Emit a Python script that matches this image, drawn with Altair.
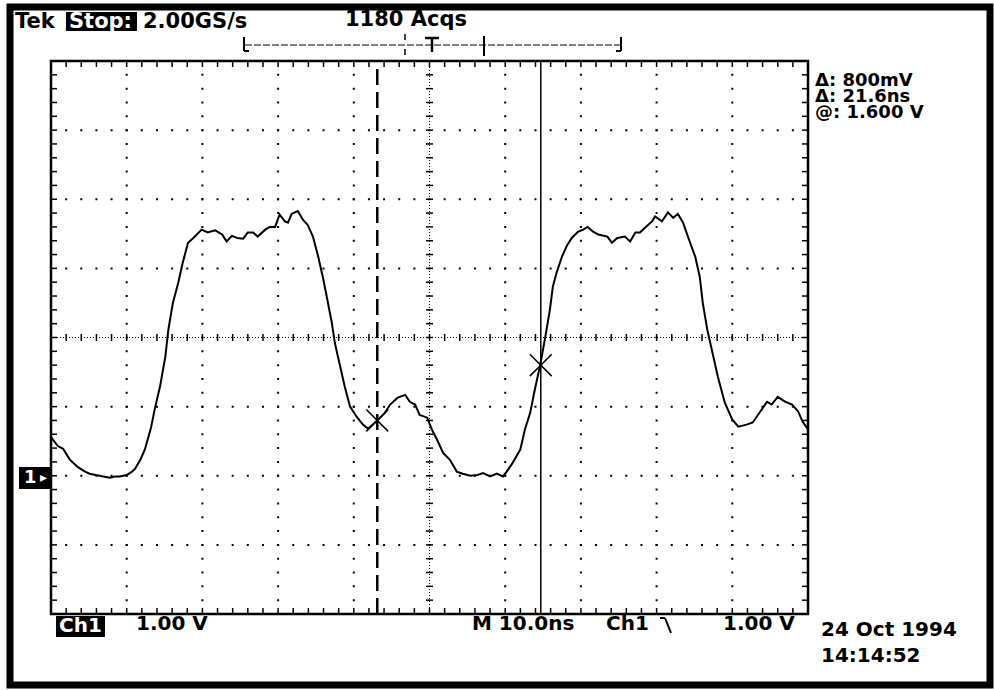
import altair as alt
import numpy as np
import pandas as pd

# ---- waveform (time in ns, 0 = screen centre; volts above ground) ----
t_ns = [-50.0, -49.1, -48.4, -47.5, -46.4, -45.5, -44.9, -44.1, -43.1, -42.2,
        -41.6, -40.9, -40.0, -39.3, -38.9, -38.2, -37.6, -36.8, -36.3, -35.6,
        -34.9, -34.5, -33.9, -33.2, -32.6, -31.9, -31.2, -30.1, -29.3, -28.3,
        -27.4, -26.8, -26.1, -25.4, -24.6, -24.0, -23.3, -22.7, -21.7, -21.1,
        -20.4, -19.8, -19.1, -18.7, -18.2, -17.4, -16.7, -16.1, -15.4, -14.7,
        -14.1, -13.5, -12.9, -12.5, -11.8, -11.2, -10.5, -9.6, -8.8, -8.1,
        -7.5, -6.8, -5.9, -5.2, -4.2, -3.2, -2.6, -1.9, -1.3, -0.3,
        0.3, 1.0, 1.8, 2.7, 3.6, 4.4, 5.4, 6.3, 7.1, 8.0,
        8.9, 9.7, 10.2, 11.0, 12.0, 12.6, 13.3, 13.9, 14.6, 15.3,
        15.9, 16.3, 16.8, 17.5, 18.2, 18.8, 19.6, 20.3, 20.9, 21.6,
        22.3, 23.5, 24.1, 24.8, 25.8, 26.5, 27.2, 27.8, 28.5, 29.4,
        29.8, 30.7, 31.5, 32.2, 32.8, 33.5, 34.2, 35.1, 35.7, 36.1,
        36.7, 37.3, 38.1, 39.0, 40.0, 40.8, 41.9, 42.7, 43.7, 44.6,
        45.2, 46.0, 47.0, 47.9, 48.7, 49.3, 50.0]
volts = [0.56, 0.43, 0.39, 0.23, 0.12, 0.06, 0.03, 0.01, -0.01, -0.03,
         -0.01, -0.01, 0.01, 0.06, 0.10, 0.23, 0.38, 0.69, 0.96, 1.29,
         1.72, 2.11, 2.50, 2.79, 3.08, 3.37, 3.44, 3.56, 3.52, 3.55,
         3.49, 3.39, 3.47, 3.44, 3.43, 3.52, 3.52, 3.46, 3.56, 3.60,
         3.60, 3.78, 3.68, 3.66, 3.79, 3.83, 3.70, 3.63, 3.46, 3.17,
         2.88, 2.55, 2.21, 1.92, 1.58, 1.29, 1.00, 0.85, 0.74, 0.68,
         0.74, 0.81, 0.91, 1.03, 1.13, 1.17, 1.07, 1.03, 0.88, 0.84,
         0.67, 0.52, 0.33, 0.23, 0.06, 0.03, 0.00, 0.01, 0.04, -0.01,
         0.03, -0.01, 0.06, 0.19, 0.38, 0.67, 0.91, 1.24, 1.59, 2.01,
         2.40, 2.74, 2.94, 3.17, 3.34, 3.44, 3.53, 3.56, 3.60, 3.53,
         3.49, 3.46, 3.37, 3.44, 3.46, 3.39, 3.52, 3.52, 3.59, 3.68,
         3.75, 3.68, 3.81, 3.73, 3.79, 3.66, 3.44, 3.17, 2.88, 2.50,
         2.11, 1.82, 1.43, 1.06, 0.81, 0.71, 0.74, 0.77, 0.93, 1.07,
         1.03, 1.14, 1.07, 1.03, 0.93, 0.78, 0.67]

# cursors
cursor_t = [-6.9, 14.7]
cursor_v = [0.8, 1.6]

# readouts
readouts = ["Δ: 800mV", "Δ: 21.6ns", "@: 1.600 V"]

# graticule: 10 x 10 ns, 8 x 1 V, ground 2 div below centre
x_divs = [-50, -40, -30, -20, -10, 0, 10, 20, 30, 40, 50]
y_divs = [-2, -1, 0, 1, 2, 3, 4, 5, 6]
x_minor = [float(v) for v in np.round(np.arange(-50, 50.001, 2.0), 3)]
y_minor = [float(v) for v in np.round(np.arange(-2, 6.0001, 0.2), 3)]

W, H = 757, 553
OX, OY = 51, 61

xs = alt.Scale(domain=[-50, 50], nice=False, zero=False)
ys = alt.Scale(domain=[-2, 6], nice=False, zero=False)

def X(f="t"):
    return alt.X(f"{f}:Q", scale=xs, axis=None)

def Y(f="v"):
    return alt.Y(f"{f}:Q", scale=ys, axis=None)

one = alt.Data(values=[{}])

def txt(label, px, py, size=20, color="black", align="left", weight="bold", **kw):
    return alt.Chart(one).mark_text(text=label, align=align, baseline="middle", fontSize=size,
                                    fontWeight=weight, font="DejaVu Sans", color=color, **kw).encode(
        x=alt.value(px - OX), y=alt.value(py - OY))

def box(x1, y1, x2, y2, color="black"):
    return alt.Chart(one).mark_rect(color=color).encode(
        x=alt.value(x1 - OX), x2=alt.value(x2 - OX), y=alt.value(y1 - OY), y2=alt.value(y2 - OY))

def seg(x1, y1, x2, y2, w=1.5, dash=None):
    kw = dict(color="black", strokeWidth=w)
    if dash:
        kw["strokeDash"] = dash
    return alt.Chart(one).mark_rule(**kw).encode(
        x=alt.value(x1 - OX), x2=alt.value(x2 - OX), y=alt.value(y1 - OY), y2=alt.value(y2 - OY))

def ticks(tv, vv, path, size, width=1.5):
    df = pd.DataFrame({"t": tv, "v": vv})
    return alt.Chart(df).mark_point(shape=path, size=size, filled=False, stroke="black",
                                    strokeWidth=width, opacity=1).encode(x=X(), y=Y())

layers = []

# outer black frame
layers.append(alt.Chart(one).mark_rect(filled=False, stroke="black", strokeWidth=7).encode(
    x=alt.value(10 - OX), x2=alt.value(990 - OX), y=alt.value(7 - OY), y2=alt.value(685 - OY)))

# dotted graticule lines
vgrid = pd.DataFrame({"t": [d for d in x_divs if d not in (-50, 0, 50)]})
vgrid["v"] = -2
vgrid["v2"] = 6
hgrid = pd.DataFrame({"v": [d for d in y_divs if d not in (-2, 2, 6)]})
hgrid["t"] = -50
hgrid["t2"] = 50
layers.append(alt.Chart(vgrid).mark_rule(color="black", strokeWidth=2, strokeDash=[2, H / 40 - 2],
                                         strokeDashOffset=1).encode(x=X(), y=Y(), y2="v2:Q"))
layers.append(alt.Chart(hgrid).mark_rule(color="black", strokeWidth=2, strokeDash=[2, W / 50 - 2],
                                         strokeDashOffset=1).encode(y=Y(), x=X(), x2="t2:Q"))

# centre cross-hair
cv = pd.DataFrame({"t": [0], "v": [-2], "v2": [6]})
ch = pd.DataFrame({"v": [2], "t": [-50], "t2": [50]})
layers.append(alt.Chart(cv).mark_rule(color="black", strokeWidth=1, strokeDash=[1, 2]).encode(
    x=X(), y=Y(), y2="v2:Q"))
layers.append(alt.Chart(ch).mark_rule(color="black", strokeWidth=1, strokeDash=[1, 2]).encode(
    y=Y(), x=X(), x2="t2:Q"))
layers.append(ticks(x_minor, [2.0] * len(x_minor), "M0,-1L0,1", 49))
layers.append(ticks([0.0] * len(y_minor), y_minor, "M-1,0L1,0", 49))

# edge ticks pointing inward
layers.append(ticks(x_minor, [-2.0] * len(x_minor), "M0,0L0,-1", 144))
layers.append(ticks(x_minor, [6.0] * len(x_minor), "M0,0L0,1", 144))
layers.append(ticks([-50.0] * len(y_minor), y_minor, "M0,0L1,0", 144))
layers.append(ticks([50.0] * len(y_minor), y_minor, "M0,0L-1,0", 144))

# cursors
c1 = pd.DataFrame({"t": [cursor_t[0]], "v": [-2], "v2": [6]})
c2 = pd.DataFrame({"t": [cursor_t[1]], "v": [-2], "v2": [6]})
layers.append(alt.Chart(c1).mark_rule(color="black", strokeWidth=2.5, strokeDash=[16, 7]).encode(x=X(), y=Y(), y2="v2:Q"))
layers.append(alt.Chart(c2).mark_rule(color="black", strokeWidth=1.5).encode(x=X(), y=Y(), y2="v2:Q"))

# waveform
wave = pd.DataFrame({"t": t_ns, "v": volts})
layers.append(alt.Chart(wave).mark_line(color="black", strokeWidth=2, interpolate="linear").encode(
    x=X(), y=Y(), order="t:Q"))

# cursor X marks
cx = pd.DataFrame({"t": cursor_t, "v": cursor_v})
layers.append(alt.Chart(cx).mark_point(shape="M-1,-1L1,1M-1,1L1,-1", size=480, filled=False,
                                       stroke="black", strokeWidth=1.5, opacity=1).encode(x=X(), y=Y()))

# ---- header ----
layers.append(txt("Tek", 15, 22, 21))
layers.append(box(66, 12, 137, 31))
layers.append(txt("Stop:", 69, 22, 21, color="white"))
layers.append(txt("2.00GS/s", 143, 22, 21))
layers.append(txt("1180 Acqs", 345, 20, 21))

# record bar
layers.append(seg(245, 45, 620, 45, 1, [7, 2]))
layers.append(seg(244, 37, 244, 51, 2))
layers.append(seg(244, 51, 249, 51, 2))
layers.append(seg(621, 37, 621, 51, 2))
layers.append(seg(616, 51, 621, 51, 2))
layers.append(seg(405, 34, 405, 40, 1.5))
layers.append(seg(405, 49, 405, 55, 1.5))
layers.append(seg(425, 38, 439, 38, 2.5))
layers.append(seg(432, 38, 432, 52, 2.5))
layers.append(seg(484, 36, 484, 56, 2))

# cursor readouts (one three-line text block)
layers.append(alt.Chart(one).mark_text(text=readouts, align="left", baseline="top", fontSize=18,
                                       lineHeight=16, fontWeight="bold", font="DejaVu Sans",
                                       color="black").encode(x=alt.value(815 - OX), y=alt.value(72 - OY)))

# ground marker
layers.append(box(19, 467, 51, 489))
layers.append(txt("1", 24, 478, 18, color="white"))
layers.append(txt("▸", 40, 478, 14, color="white"))

# bottom status line
layers.append(box(56, 616, 105, 637))
layers.append(txt("Ch1", 59, 626, 20, color="white"))
layers.append(txt("1.00 V", 136, 624, 20))
layers.append(txt("M 10.0ns", 472, 624, 20))
layers.append(txt("Ch1", 606, 624, 20))
layers.append(seg(660, 618, 665, 618, 2))
layers.append(seg(665, 618, 671, 633, 2))
layers.append(txt("1.00 V", 723, 624, 20))
layers.append(txt("24 Oct 1994", 821, 630, 20))
layers.append(txt("14:14:52", 821, 656, 20))

chart = alt.layer(*layers).properties(
    width=W, height=H,
    padding={"left": OX, "top": OY, "right": 994 - OX - W, "bottom": 690 - OY - H},
    autosize=alt.AutoSizeParams(type="none"),
    background="white",
).configure_view(stroke="black", strokeWidth=2.5)

chart.save("out.html", embed_options={"renderer": "svg", "actions": False})
